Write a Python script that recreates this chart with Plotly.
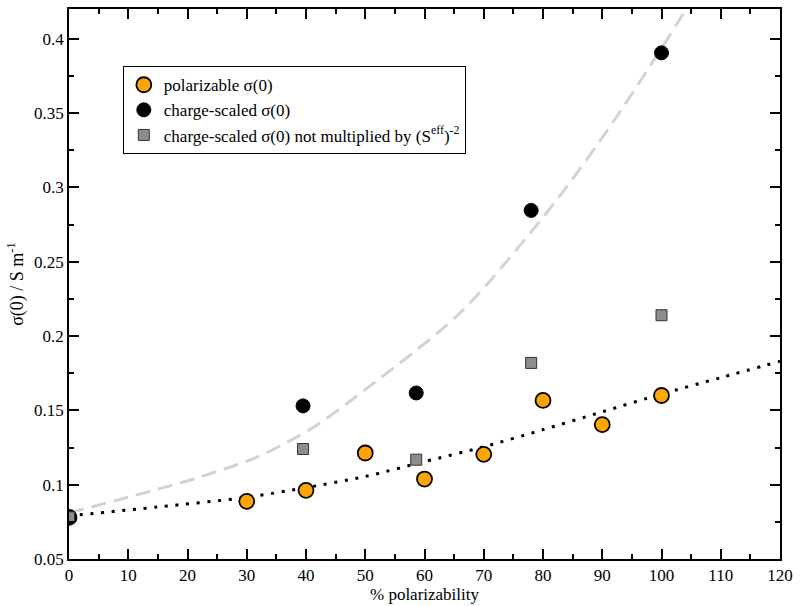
import plotly.graph_objects as go

# polarizable sigma(0)
pol_x = [0, 30, 40, 50, 60, 70, 80, 90, 100]
pol_y = [0.078, 0.0888, 0.0962, 0.1213, 0.1038, 0.1204, 0.1567, 0.1404, 0.1600]

# charge-scaled sigma(0)
cs_x = [0, 39.5, 58.6, 78, 100]
cs_y = [0.078, 0.1530, 0.1617, 0.2845, 0.3905]

# charge-scaled sigma(0) not multiplied by (S_eff)^-2
nm_x = [0, 39.5, 58.6, 78, 100]
nm_y = [0.078, 0.1240, 0.1168, 0.1819, 0.2140]

# fitted curves
fit_cs_x = [0, 15, 22, 32, 41, 48, 66, 82, 92, 104, 108]
fit_cs_y = [0.081, 0.097, 0.105, 0.119, 0.138, 0.158, 0.2155, 0.290, 0.345, 0.419, 0.447]

fit_pol_x = [0, 15, 30, 40, 50, 60, 70, 80, 90, 100, 110, 120]
fit_pol_y = [0.079, 0.085, 0.0915, 0.098, 0.1055, 0.1155, 0.1255, 0.137, 0.149, 0.161, 0.172, 0.183]

x_ticks = [0, 10, 20, 30, 40, 50, 60, 70, 80, 90, 100, 110, 120]
y_ticks = [0.05, 0.1, 0.15, 0.2, 0.25, 0.3, 0.35, 0.4]
y_tick_text = ["0.05", "0.1", "0.15", "0.2", "0.25", "0.3", "0.35", "0.4"]

FONT = "Liberation Serif"

fig = go.Figure()

fig.add_trace(go.Scatter(
    x=fit_cs_x, y=fit_cs_y, mode="lines", showlegend=False, hoverinfo="skip",
    line=dict(color="#d3d3d3", width=3, dash="15px,8px", shape="spline", smoothing=0.8),
))
fig.add_trace(go.Scatter(
    x=fit_pol_x, y=fit_pol_y, mode="lines", showlegend=False, hoverinfo="skip",
    line=dict(color="black", width=3, dash="3px,7.7px", shape="spline", smoothing=0.8),
))

fig.add_trace(go.Scatter(
    x=pol_x, y=pol_y, mode="markers", name="polarizable σ(0)",
    marker=dict(symbol="circle", size=15, color="#FFA500", line=dict(color="black", width=1.8)),
))
fig.add_trace(go.Scatter(
    x=cs_x, y=cs_y, mode="markers", name="charge-scaled σ(0)",
    marker=dict(symbol="circle", size=14, color="black", line=dict(color="black", width=1)),
))
fig.add_trace(go.Scatter(
    x=nm_x, y=nm_y, mode="markers",
    name="charge-scaled σ(0) not multiplied by (S<sup>eff</sup>)<sup>-2</sup>",
    marker=dict(symbol="square", size=11, color="#8c8c8c", line=dict(color="#333333", width=1)),
))

axis_common = dict(
    showline=True, linecolor="black", linewidth=1.5, mirror="ticks",
    ticks="inside", ticklen=10, tickwidth=1.5, tickcolor="black",
    showgrid=False, zeroline=False,
    tickfont=dict(family=FONT, size=17, color="black"),
)

fig.update_xaxes(
    range=[0, 120], tickvals=x_ticks,
    minor=dict(ticks="inside", ticklen=5, tickwidth=1.5, tickcolor="black", dtick=5, tick0=0, showgrid=False),
    title=dict(text="% polarizability", font=dict(family=FONT, size=17, color="black"), standoff=2),
    **axis_common,
)
fig.update_yaxes(
    range=[0.05, 0.42], tickvals=y_ticks, ticktext=y_tick_text,
    minor=dict(ticks="inside", ticklen=5, tickwidth=1.5, tickcolor="black", dtick=0.025, tick0=0.05, showgrid=False),
    title=dict(text="σ(0) / S m<sup>-1</sup>", font=dict(family=FONT, size=18, color="black"), standoff=6),
    **axis_common,
)

fig.update_layout(
    width=800, height=606,
    margin=dict(l=69, r=18, t=7, b=46),
    paper_bgcolor="white", plot_bgcolor="white",
    font=dict(family=FONT, size=17, color="black"),
    legend=dict(
        x=0.0757, y=0.896, xanchor="left", yanchor="top",
        bgcolor="white", bordercolor="black", borderwidth=1,
        font=dict(family=FONT, size=17, color="black"),
        itemsizing="trace", tracegroupgap=0,
    ),
)

fig.write_html("out.html", config={"displayModeBar": False})

with open("out.html", "r", encoding="utf-8") as f:
    html = f.read()
html = html.replace("<head>", "<head><style>html,body{margin:0;padding:0;overflow:hidden;}</style>", 1)
with open("out.html", "w", encoding="utf-8") as f:
    f.write(html)
